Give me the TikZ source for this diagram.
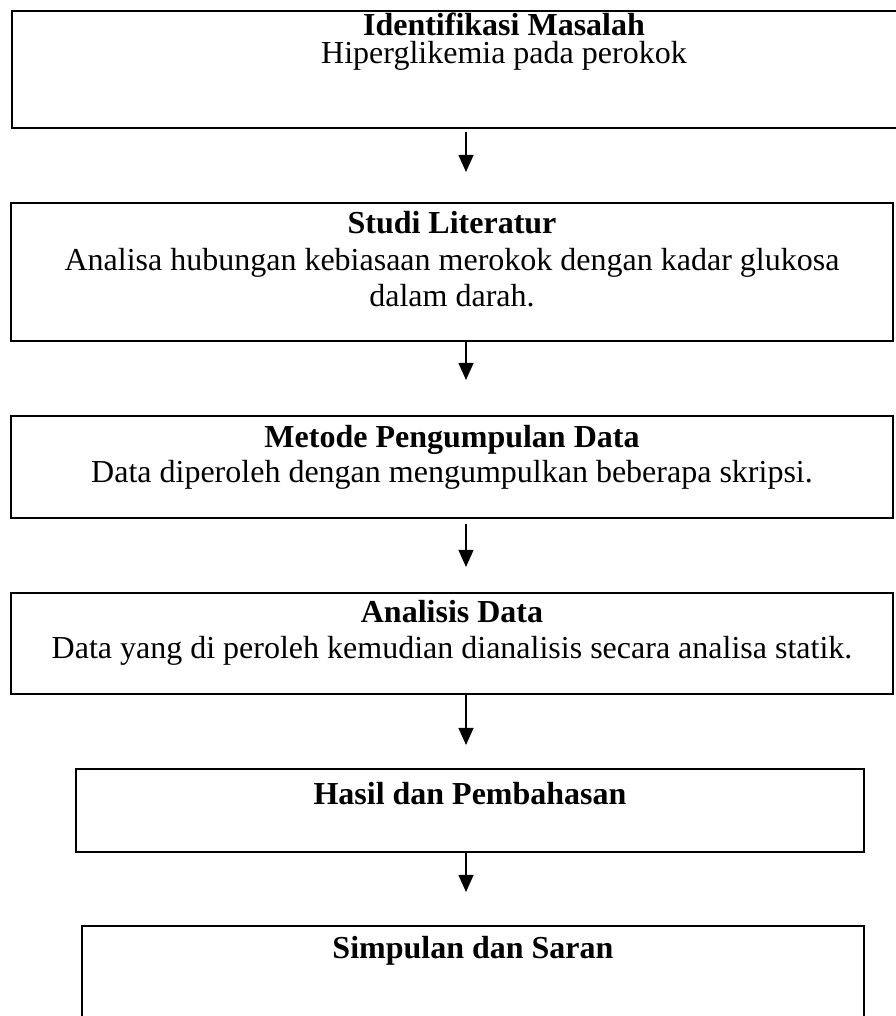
\documentclass[tikz,border=0pt]{standalone}
\usepackage{fontspec}
\setmainfont{Liberation Serif}
\usetikzlibrary{arrows.meta}

\begin{document}
\begin{tikzpicture}[x=0.375pt, y=-0.375pt,
	flowbox/.style={rectangle, draw=black, line width=0.75pt, inner sep=0pt},
	headtext/.style={anchor=base, inner sep=0pt, font=\fontsize{12pt}{13.8pt}\selectfont\bfseries},
	bodytext/.style={anchor=base, inner sep=0pt, font=\fontsize{12pt}{13.8pt}\selectfont},
	flowarrow/.style={-{Triangle[length=6.4pt, width=5.6pt]}, line width=0.55pt}]
	\useasboundingbox (0,0) rectangle (896,1016);
	\clip (0,0) rectangle (896,1016);
	\node[flowbox, minimum width=369pt, minimum height=43.875pt](masalah) at (504,69.5){};
	\node[headtext](masalahHead) at (504,35){Identifikasi Masalah};
	\node[bodytext](masalahBody) at (504,63){Hiperglikemia pada perokok};
	\node[flowbox, minimum width=330.75pt, minimum height=51.75pt](literatur) at (452,272){};
	\node[headtext](literaturHead) at (452,233){Studi Literatur};
	\node[bodytext](literaturBodyA) at (452,270){Analisa hubungan kebiasaan merokok dengan kadar glukosa};
	\node[bodytext](literaturBodyB) at (452,306){dalam darah.};
	\node[flowbox, minimum width=330.75pt, minimum height=38.25pt](metode) at (452,467){};
	\node[headtext](metodeHead) at (452,447){Metode Pengumpulan Data};
	\node[bodytext](metodeBody) at (452,482){Data diperoleh dengan mengumpulkan beberapa skripsi.};
	\node[flowbox, minimum width=330.75pt, minimum height=37.875pt](analisis) at (452,643.5){};
	\node[headtext](analisisHead) at (452,622){Analisis Data};
	\node[bodytext](analisisBody) at (452,658){Data yang di peroleh kemudian dianalisis secara analisa statik.};
	\node[flowbox, minimum width=295.5pt, minimum height=31.125pt](hasil) at (470,810.5){};
	\node[headtext](hasilHead) at (470,804){Hasil dan Pembahasan};
	\node[flowbox, minimum width=293.25pt, minimum height=42.75pt](simpulan) at (473,983){};
	\node[headtext](simpulanHead) at (473,958){Simpulan dan Saran};
	\coordinate (tip1) at (466,172);
	\coordinate (tip2) at (466,380);
	\coordinate (tip3) at (466,567);
	\coordinate (tip4) at (466,745);
	\coordinate (tip5) at (466,892);
	\draw[flowarrow, shorten <=1pt](tip1 |- masalah.south) -- (tip1);
	\draw[flowarrow](tip2 |- literatur.south) -- (tip2);
	\draw[flowarrow, shorten <=2pt](tip3 |- metode.south) -- (tip3);
	\draw[flowarrow](tip4 |- analisis.south) -- (tip4);
	\draw[flowarrow](tip5 |- hasil.south) -- (tip5);
\end{tikzpicture}
\end{document}
